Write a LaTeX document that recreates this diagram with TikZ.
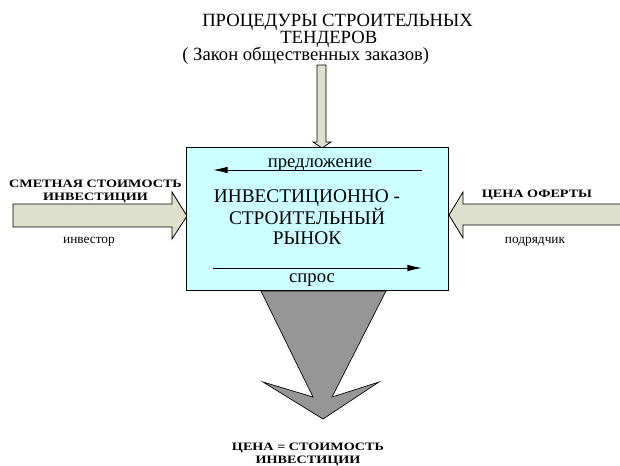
\documentclass[tikz,border=0pt]{standalone}
\usepackage{fontspec}
\setmainfont{Liberation Serif}
\newfontfamily\shirokij[FakeStretch=1.25]{Liberation Serif}
\usetikzlibrary{arrows.meta}
\definecolor{blokstrelka}{RGB}{221,224,204}
\definecolor{rynokfon}{RGB}{204,255,255}
\definecolor{itogstrelka}{RGB}{150,150,150}
\tikzset{
  blok/.style={draw=black,line width=0.6pt,fill=blokstrelka},
  metka/.style={font=\shirokij\bfseries\fontsize{8.5}{9.75}\selectfont,align=center,anchor=base,inner sep=0pt},
  podpis/.style={font=\rmfamily\fontsize{10}{12}\selectfont,anchor=base,inner sep=0pt},
  krupno/.style={font=\rmfamily\fontsize{14}{12.75}\selectfont,anchor=base west,inner sep=0pt},
  potok/.style={line width=0.75pt,-{Latex[length=11pt,width=5pt]}}
}

\begin{document}
\begin{tikzpicture}[x=0.75pt,y=-0.75pt]
      \useasboundingbox (0,0) rectangle (620,465);
      \node[krupno] (tendery1) at (202,26) {ПРОЦЕДУРЫ СТРОИТЕЛЬНЫХ};
      \node[krupno] (tendery2) at (280,43) {ТЕНДЕРОВ};
      \node[krupno] (zakon) at (182,60) {( Закон общественных заказов)};
      \filldraw[blok] (317,65) -- (326,65) -- (326,142) -- (331,142) -- (322,148)
            -- (313,142) -- (317,142) -- cycle;
      \filldraw[blok] (13,204) -- (172,204) -- (172,192) -- (187,216) -- (172,239)
            -- (172,227) -- (13,227) -- cycle;
      \filldraw[blok] (625,204) -- (463,204) -- (463,192) -- (449,215) -- (463,238)
            -- (463,225) -- (625,225);
      \node[draw=black,line width=0.75pt,fill=rynokfon,minimum width=196.5pt,
            minimum height=107.25pt,inner sep=0pt] (rynok) at (317,218.5) {};
      \filldraw[draw=black,line width=0.5pt,fill=itogstrelka] (261,291) -- (313,397)
            -- (263,382) -- (323,419) -- (379,382) -- (332,397) -- (386,291) -- cycle;
      \node[font=\rmfamily\fontsize{14.5}{14.6}\selectfont,align=center,anchor=base,inner sep=0pt]
            (rynoktekst) at (307,244) {ИНВЕСТИЦИОННО -\\СТРОИТЕЛЬНЫЙ\\РЫНОК};
      \node[font=\rmfamily\fontsize{14}{14}\selectfont,anchor=base,inner sep=0pt] (predl) at (320,167) {предложение};
      \node[font=\rmfamily\fontsize{14}{14}\selectfont,anchor=base,inner sep=0pt] (spros) at (312,282) {спрос};
      \coordinate (predl-a) at (422,170);
      \coordinate (predl-b) at (213,170);
      \coordinate (spros-a) at (213,268);
      \coordinate (spros-b) at (422,268);
      \draw[potok] (predl-a) -- (predl-b);
      \draw[potok] (spros-a) -- (spros-b);
      \node[metka] (smeta) at (95.5,200) {СМЕТНАЯ СТОИМОСТЬ\\ИНВЕСТИЦИИ};
      \node[podpis] (investor) at (89,243) {инвестор};
      \node[metka] (oferta) at (537,197) {ЦЕНА ОФЕРТЫ};
      \node[podpis] (podryadchik) at (535,243) {подрядчик};
      \node[metka] (cena) at (308,463) {ЦЕНА = СТОИМОСТЬ\\ИНВЕСТИЦИИ};
\end{tikzpicture}
\end{document}
